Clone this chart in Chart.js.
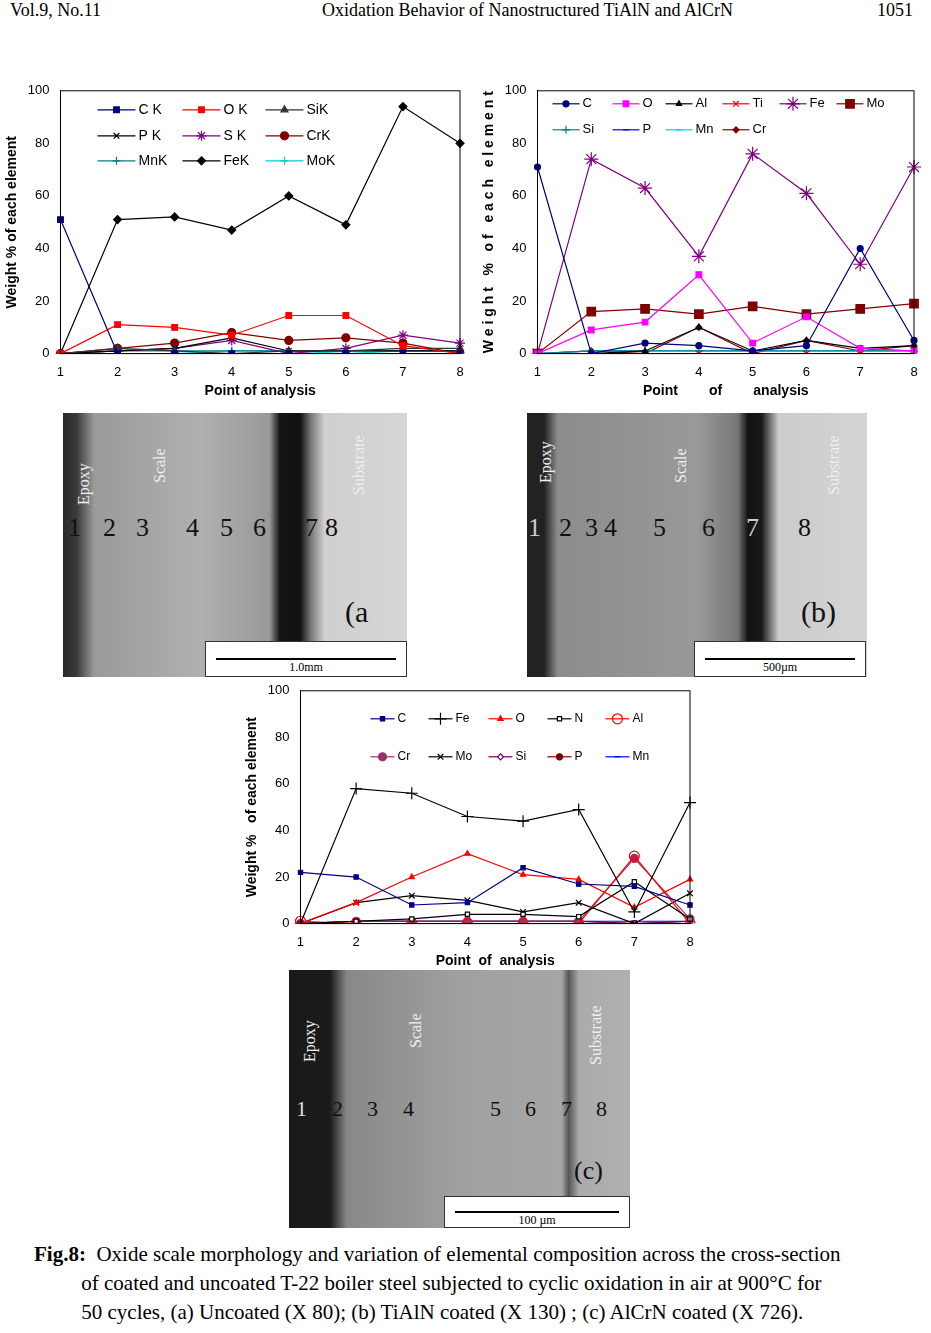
<!DOCTYPE html>
<html><head><meta charset="utf-8">
<script src="https://cdn.jsdelivr.net/npm/chart.js@4"></script>
<style>
body{margin:0;width:931px;height:1333px;position:relative;background:#fff;font-family:"Liberation Serif",serif;overflow:hidden}
.abs{position:absolute}
.hdr{top:0;font-size:18px}
.img{position:absolute;overflow:hidden}
.lbl{position:absolute;color:#eee;font-size:16px;transform:rotate(-90deg);transform-origin:left top}
.num{position:absolute;color:#111;font-size:26px}
.bar{position:absolute;background:#fff;border:1px solid #333;font-size:12px;text-align:center}
.cap{font-size:21px;left:34px;top:1240px;line-height:29px;width:900px}
</style></head><body>
<div class="abs hdr" style="left:10px">Vol.9, No.11</div>
<div class="abs hdr" style="left:322px">Oxidation Behavior of Nanostructured TiAlN and AlCrN</div>
<div class="abs hdr" style="left:877px">1051</div>

<div class="abs" style="left:0;top:80px;width:470px;height:320px"><canvas id="ca"></canvas></div>
<div class="abs" style="left:470px;top:80px;width:461px;height:320px"><canvas id="cb"></canvas></div>
<div class="abs" style="left:240px;top:680px;width:460px;height:290px"><canvas id="cc"></canvas></div>

<div class="img" style="left:63px;top:413px;width:344px;height:264px;background:linear-gradient(90deg,#2a2a2a 0,#3a3a3a 4%,#9a9a9a 9%,#b0b0b0 40%,#999 60%,#151515 63%,#111 69%,#777 72%,#cfcfcf 76%,#d6d6d6 100%)">
 <div class="lbl" style="left:12px;top:92px">Epoxy</div>
 <div class="lbl" style="left:88px;top:70px">Scale</div>
 <div class="lbl" style="left:287px;top:82px">Substrate</div>
 <div class="num" style="left:5px;top:100px">1</div><div class="num" style="left:40px;top:100px">2</div>
 <div class="num" style="left:73px;top:100px">3</div><div class="num" style="left:123px;top:100px">4</div>
 <div class="num" style="left:157px;top:100px">5</div><div class="num" style="left:190px;top:100px">6</div>
 <div class="num" style="left:242px;top:100px">7</div><div class="num" style="left:262px;top:100px">8</div>
 <div class="num" style="left:282px;top:182px;font-size:30px">(a</div>
 <div class="bar" style="left:142px;top:228px;width:200px;height:34px"><div style="border-bottom:2px solid #000;margin:16px 10px 0"></div>1.0mm</div>
</div>
<div class="img" style="left:527px;top:413px;width:340px;height:264px;background:linear-gradient(90deg,#222 0,#222 5%,#8c8c8c 9%,#999 50%,#777 62%,#111 65%,#1a1a1a 69%,#ccc 74%,#d4d4d4 100%)">
 <div class="lbl" style="left:10px;top:70px">Epoxy</div>
 <div class="lbl" style="left:145px;top:70px">Scale</div>
 <div class="lbl" style="left:298px;top:82px">Substrate</div>
 <div class="num" style="left:1px;top:100px;color:#ccc">1</div><div class="num" style="left:32px;top:100px">2</div>
 <div class="num" style="left:58px;top:100px">3</div><div class="num" style="left:77px;top:100px">4</div>
 <div class="num" style="left:126px;top:100px">5</div><div class="num" style="left:175px;top:100px">6</div>
 <div class="num" style="left:219px;top:100px;color:#ccc">7</div><div class="num" style="left:271px;top:100px">8</div>
 <div class="num" style="left:274px;top:182px;font-size:30px">(b)</div>
 <div class="bar" style="left:167px;top:228px;width:170px;height:34px"><div style="border-bottom:2px solid #000;margin:16px 10px 0"></div>500µm</div>
</div>
<div class="img" style="left:289px;top:970px;width:341px;height:258px;background:linear-gradient(90deg,#1a1a1a 0,#1a1a1a 12%,#888 17%,#a0a0a0 50%,#a6a6a6 80%,#555 82%,#aaa 85%,#b0b0b0 100%)">
 <div class="lbl" style="left:12px;top:92px">Epoxy</div>
 <div class="lbl" style="left:118px;top:78px">Scale</div>
 <div class="lbl" style="left:298px;top:95px">Substrate</div>
 <div class="num" style="left:7px;top:126px;font-size:22px;color:#ddd">1</div><div class="num" style="left:43px;top:126px;font-size:22px">2</div>
 <div class="num" style="left:78px;top:126px;font-size:22px">3</div><div class="num" style="left:114px;top:126px;font-size:22px">4</div>
 <div class="num" style="left:201px;top:126px;font-size:22px">5</div><div class="num" style="left:236px;top:126px;font-size:22px">6</div>
 <div class="num" style="left:272px;top:126px;font-size:22px">7</div><div class="num" style="left:307px;top:126px;font-size:22px">8</div>
 <div class="num" style="left:285px;top:186px;font-size:26px">(c)</div>
 <div class="bar" style="left:155px;top:226px;width:184px;height:30px"><div style="border-bottom:2px solid #000;margin:14px 10px 0"></div>100 µm</div>
</div>

<div class="abs cap"><b>Fig.8:</b>&nbsp; Oxide scale morphology and variation of elemental composition across the cross-section<br>&nbsp;&nbsp;&nbsp;&nbsp;&nbsp;&nbsp;&nbsp;&nbsp;&nbsp;of coated and uncoated T-22 boiler steel subjected to cyclic oxidation in air at 900°C for<br>&nbsp;&nbsp;&nbsp;&nbsp;&nbsp;&nbsp;&nbsp;&nbsp;&nbsp;50 cycles, (a) Uncoated (X 80); (b) TiAlN coated (X 130) ; (c) AlCrN coated (X 726).</div>

<script>
const points = ['1','2','3','4','5','6','7','8'];

// (a) uncoated
const aCK  = [51,0,0,0,0,0,0,0];
const aOK  = [0,11,10,7,14.5,14.5,3,0];
const aSiK = [0,2,1,0,1,1,2,2];
const aPK  = [0,1,2,6,1,1,1,1];
const aSK  = [0,1,2,5,0,2,7,4];
const aCrK = [0,2,4,8,5,6,4,0];
const aMnK = [0,1,1,1,1,1,1,1];
const aFeK = [0,51,52,47,60,49,94,80];
const aMoK = [0,0,0,1,1,0,1,1];

// (b) TiAlN
const bC  = [71,0,4,3,1,3,40,5];
const bO  = [0,9,12,30,4,14,2,1];
const bAl = [0,0,1,10,1,5,2,3];
const bTi = [0,0,0,0,0,0,0,0];
const bFe = [0,74,63,37,76,61,34,71];
const bMo = [0,16,17,15,18,15,17,19];
const bSi = [0,1,1,1,1,1,1,1];
const bP  = [0,0,0,0,0,0,0,0];
const bMn = [0,1,1,1,1,1,1,1];
const bCr = [0,1,0,10,0,5,1,3];

// (c) AlCrN
const cC  = [22,20,8,9,24,17,16,8];
const cFe = [0,58,56,46,44,49,5,52];
const cO  = [0,9,20,30,21,19,7,19];
const cN  = [0,1,2,4,4,3,18,2];
const cAl = [1,0,0,0,0,0,29,0];
const cCr = [0,1,1,1,1,1,28,2];
const cMo = [0,9,12,10,5,9,0,13];
const cSi = [0,1,1,1,1,1,0,1];
const cP  = [0,1,1,1,1,1,0,1];
const cMn = [0,1,1,1,1,1,1,1];

Chart.defaults.font.family = '"Liberation Sans", Arial, sans-serif';
Chart.defaults.color = '#000';

function ds(label, data, color, style, size, fill) {
  return {label, data, borderColor: color, backgroundColor: fill || color,
    pointStyle: style, pointRadius: size, pointBorderColor: color, borderWidth: 1.2, tension: 0};
}

// legend drawn inside the plot: cols = x offsets, rows = y offsets from chart area corner
function boxLegend(cols, rows, len, fontSize) {
  return {id: 'boxLegend', afterDraw(c) {
    const a = c.chartArea, g = c.ctx;
    g.save();
    g.font = fontSize + 'px "Liberation Sans", Arial, sans-serif';
    g.textBaseline = 'middle';
    c.data.datasets.forEach((d, i) => {
      const x = a.left + cols[i % cols.length], y = a.top + rows[Math.floor(i / cols.length)];
      g.strokeStyle = d.borderColor; g.lineWidth = 1.2;
      g.beginPath(); g.moveTo(x, y); g.lineTo(x + len, y); g.stroke();
      g.fillStyle = d.backgroundColor;
      Chart.helpers.drawPoint(g, {pointStyle: d.pointStyle, radius: d.pointRadius, rotation: 0, borderWidth: 1.2}, x + len / 2, y);
      g.fillStyle = '#000';
      g.fillText(d.label, x + len + 3, y);
    });
    g.restore();
  }};
}

function makeChart(id, sets, xTitle, yTitle, pad, legend) {
  new Chart(document.getElementById(id), {
    type: 'line',
    data: {labels: points, datasets: sets},
    options: {
      animation: false, responsive: true, maintainAspectRatio: false,
      layout: {padding: pad},
      plugins: {legend: {display: false}, tooltip: {enabled: false}},
      scales: {
        x: {offset: false, grid: {display: false}, border: {color: '#000'},
          ticks: {font: {size: 13}}, title: {display: true, text: xTitle, font: {size: 14, weight: 'bold'}, padding: 0}},
        y: {min: 0, max: 100, grid: {display: false}, border: {color: '#000'},
          ticks: {stepSize: 20, font: {size: 13}},
          title: {display: true, text: yTitle, font: {size: 14, weight: 'bold'}}}
      }
    },
    plugins: [legend, {id: 'frame', afterDraw(c) {
      const a = c.chartArea, g = c.ctx;
      g.save(); g.strokeStyle = '#000'; g.lineWidth = 1;
      g.strokeRect(a.left, a.top, a.right - a.left, a.bottom - a.top); g.restore();
    }}]
  });
}

makeChart('ca', [
  ds('C K', aCK, '#000080', 'rect', 4),
  ds('O K', aOK, '#ff0000', 'rect', 4),
  ds('SiK', aSiK, '#333333', 'triangle', 4),
  ds('P K', aPK, '#000000', 'crossRot', 4),
  ds('S K', aSK, '#800080', 'star', 5),
  ds('CrK', aCrK, '#800000', 'circle', 4),
  ds('MnK', aMnK, '#008080', 'cross', 4),
  ds('FeK', aFeK, '#000000', 'rectRot', 4),
  ds('MoK', aMoK, '#00cccc', 'cross', 4, '#000')
], 'Point of analysis', 'Weight % of each element', {right: 10, top: 6},
  boxLegend([37, 122, 205], [19, 45, 70], 38, 14));

makeChart('cb', [
  ds('C', bC, '#000080', 'circle', 3),
  ds('O', bO, '#ff00ff', 'rect', 4),
  ds('Al', bAl, '#000000', 'triangle', 3),
  ds('Ti', bTi, '#ff0000', 'crossRot', 4),
  ds('Fe', bFe, '#800080', 'star', 7),
  ds('Mo', bMo, '#800000', 'rect', 6),
  ds('Si', bSi, '#008080', 'cross', 4),
  ds('P', bP, '#0000ff', 'line', 3),
  ds('Mn', bMn, '#00ccff', 'line', 3),
  ds('Cr', bCr, '#800000', 'rectRot', 3)
], 'Point        of        analysis', 'W e i g h t   %   o f   e a c h   e l e m e n t', {left: 7, right: 17, top: 6},
  boxLegend([15, 75, 128, 185, 242, 299], [13, 39], 27, 13));

makeChart('cc', [
  ds('C', cC, '#000080', 'rect', 3),
  ds('Fe', cFe, '#000000', 'cross', 6),
  ds('O', cO, '#ff0000', 'triangle', 3),
  ds('N', cN, '#000000', 'rect', 3, '#fff'),
  ds('Al', cAl, '#ff0000', 'circle', 5, 'rgba(0,0,0,0)'),
  ds('Cr', cCr, '#993366', 'circle', 4),
  ds('Mo', cMo, '#000000', 'crossRot', 4),
  ds('Si', cSi, '#660066', 'rectRot', 3, '#fff'),
  ds('P', cP, '#800000', 'circle', 3),
  ds('Mn', cMn, '#0000ff', 'line', 3)
], 'Point  of  analysis', 'Weight %   of each element', {right: 10, top: 6},
  boxLegend([70, 128, 188, 247, 305], [28, 66], 24, 12));
</script>
</body></html>
